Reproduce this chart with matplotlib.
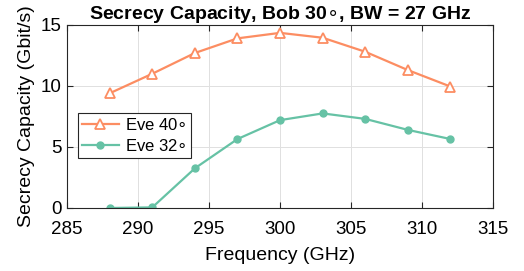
import numpy as np
import matplotlib.pyplot as plt

plt.rcParams['font.family'] = ['Liberation Sans', 'DejaVu Sans']
plt.rcParams['mathtext.fontset'] = 'dejavusans'

# data
freq = [288, 291, 294, 297, 300, 303, 306, 309, 312]
eve40 = [9.4, 11.0, 12.7, 13.9, 14.35, 13.95, 12.8, 11.3, 9.95]
eve32 = [0.0, 0.05, 3.25, 5.65, 7.2, 7.75, 7.3, 6.4, 5.65]

c_orange = '#fc8d62'
c_green = '#66c2a5'

fig = plt.figure(figsize=(5.24, 2.71), dpi=100)
ax = fig.add_axes([0.128, 0.2325, 0.813, 0.6755])

ax.plot(freq, eve40, color=c_orange, lw=1.6, marker='^', ms=7,
        mfc='white', mec=c_orange, mew=1.3, label=r'Eve 40$\circ$')
ax.plot(freq, eve32, color=c_green, lw=1.6, marker='o', ms=5,
        mfc=c_green, mec=c_green, label=r'Eve 32$\circ$')

ax.set_xlim(285, 315)
ax.set_ylim(0, 15)
ax.set_xticks(np.arange(285, 316, 5))
ax.set_yticks([0, 5, 10, 15])
ax.grid(True, color='#e0e0e0', lw=0.7)
ax.set_axisbelow(True)
ax.tick_params(direction='in', top=True, right=True, labelsize=13.5,
               color='#262626', length=4)
ax.tick_params(axis='x', pad=9.5)
ax.tick_params(axis='y', pad=4)
for s in ax.spines.values():
    s.set_color('#262626')
    s.set_linewidth(0.8)

ax.set_xlabel('Frequency (GHz)', fontsize=14, labelpad=6)
ax.set_ylabel('Secrecy Capacity (Gbit/s)', fontsize=14, labelpad=4)
ax.set_title(r'Secrecy Capacity, Bob 30$\circ$, BW = 27 GHz',
             fontsize=14, fontweight='bold', pad=4)

leg = ax.legend(loc='upper left', bbox_to_anchor=(0.025, 0.52), fontsize=12,
                fancybox=False, edgecolor='#262626', framealpha=1,
                handlelength=2.2, handletextpad=0.4, borderpad=0.25,
                labelspacing=0.3, borderaxespad=0)
leg.get_frame().set_linewidth(0.8)

fig.savefig('out.png', dpi=100)
